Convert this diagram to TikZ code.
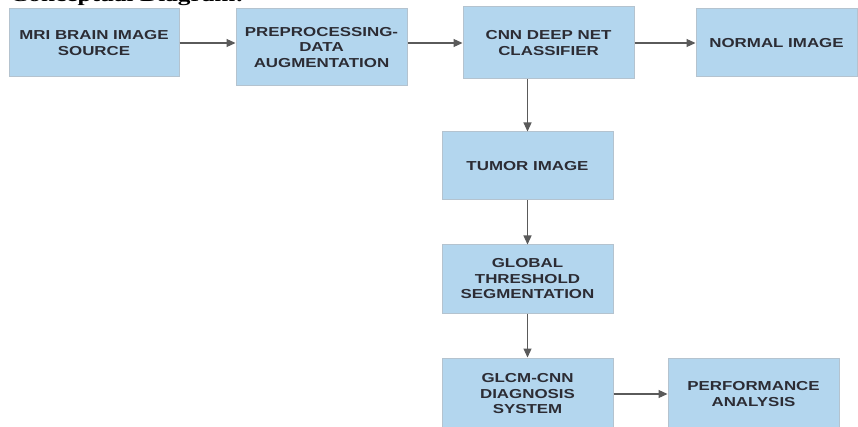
\documentclass[tikz,border=0pt]{standalone}
\usepackage{fontspec}
\usetikzlibrary{arrows.meta}
\newfontfamily\boxfont[FakeStretch=1.3]{Liberation Sans Bold}
\newfontfamily\headfont[FakeStretch=1.33]{Liberation Serif Bold}
\definecolor{boxblue}{HTML}{B3D6EE}
\definecolor{boxline}{HTML}{B4C3CF}
\definecolor{txt}{HTML}{2C2C34}
\definecolor{arr}{HTML}{5A5A5A}
\tikzset{
  blk/.style={draw=boxline, line width=1pt, fill=boxblue, inner sep=0pt,
    align=center, text=txt, font=\boxfont\fontsize{13}{15.5}\selectfont},
  conn/.style={draw=arr, line width=1.1pt, -{Triangle[length=9pt,width=8pt]}}
}
\begin{document}
\begin{tikzpicture}[x=1pt,y=-1pt]
\useasboundingbox (0,0) rectangle (858,427);
\clip (0,0) rectangle (858,427);
\fill[white] (0,0) rectangle (858,427);
\node[anchor=base west, inner sep=0pt, font=\headfont\fontsize{19}{20}\selectfont] (head) at (10,2) {Conceptual Diagram:};
\node[blk, minimum width=170pt, minimum height=68pt] (b1) at (94,43) {MRI BRAIN IMAGE\\SOURCE};
\node[blk, minimum width=171pt, minimum height=77pt] (b2) at (321.5,47.5) {PREPROCESSING-\\DATA\\AUGMENTATION};
\node[blk, minimum width=171pt, minimum height=72pt] (b3) at (548.5,43) {CNN DEEP NET\\CLASSIFIER};
\node[blk, minimum width=161pt, minimum height=68pt] (b4) at (776.5,43) {NORMAL IMAGE};
\node[blk, minimum width=171pt, minimum height=68pt] (tum) at (527.5,166) {TUMOR IMAGE};
\node[blk, minimum width=171pt, minimum height=68pt] (glob) at (527.5,279) {GLOBAL\\THRESHOLD\\SEGMENTATION};
\node[blk, minimum width=171pt, minimum height=72pt] (glcm) at (527.5,394) {GLCM-CNN\\DIAGNOSIS\\SYSTEM};
\node[blk, minimum width=171pt, minimum height=72pt] (perf) at (753.5,394) {PERFORMANCE\\ANALYSIS};
\draw[conn] (b1.east) -- (b1.east -| b2.west);
\draw[conn] (b3.west -| b2.east) -- (b3.west);
\draw[conn] (b3.east) -- (b4.west);
\draw[conn] (b3.south -| tum.north) -- (tum.north);
\draw[conn] (tum.south) -- (glob.north);
\draw[conn] (glob.south) -- (glcm.north);
\draw[conn] (glcm.east) -- (perf.west);
\end{tikzpicture}
\end{document}
